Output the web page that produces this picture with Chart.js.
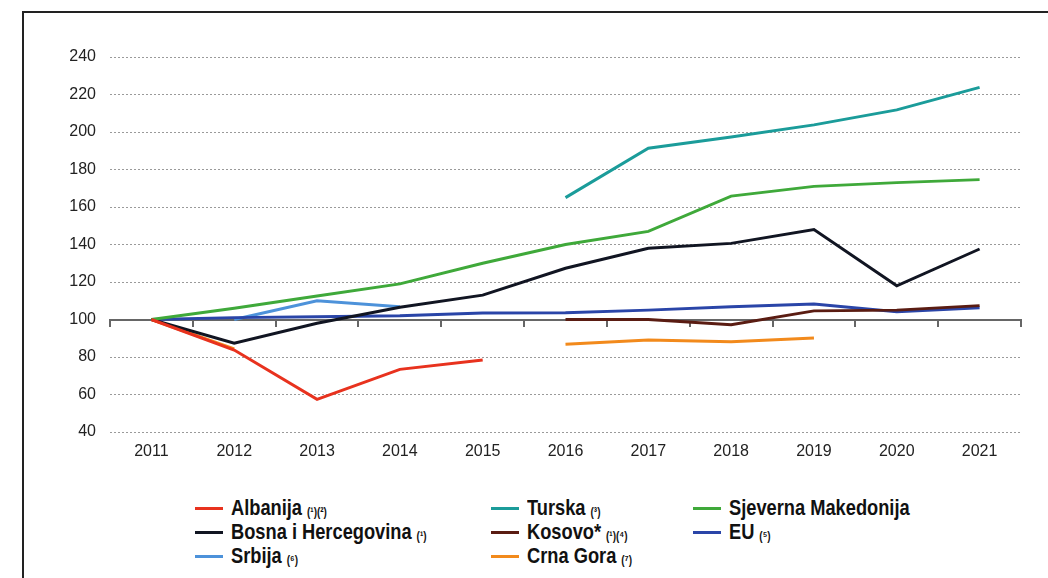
<!DOCTYPE html>
<html>
<head>
<meta charset="utf-8">
<script src="https://cdn.jsdelivr.net/npm/chart.js@4"></script>
<style>
  body { margin: 0; background: #fff; }
  #wrap { position: relative; width: 1048px; height: 578px; overflow: hidden; background: #fff; }
  #frame { position: absolute; left: 22px; top: 11px; width: 1100px; height: 700px; border: 2px solid #222; box-sizing: border-box; }
  #chartBox { position: absolute; left: 0; top: 0; width: 1048px; height: 480px; }
  .leg { position: absolute; height: 24px; display: flex; align-items: center; white-space: nowrap; color: #111; }
  .leg i { display: inline-block; width: 28px; height: 3px; margin-right: 8px; }
  .leg span { display: inline-block; transform: scaleX(0.83); transform-origin: left center;
              font-family: "Liberation Sans", Arial, sans-serif; font-weight: bold; font-size: 22px; }
  .leg small { font-size: 12px; margin-left: 6px; position: relative; top: 1px; }
</style>
</head>
<body>
<div id="wrap">
  <div id="frame"></div>
  <div id="chartBox"><canvas id="chart" width="1048" height="480"></canvas></div>
  <div id="legend"></div>
</div>
<script>
const years = ['2011', '2012', '2013', '2014', '2015', '2016', '2017', '2018', '2019', '2020', '2021'];
const yTicks = [40, 60, 80, 100, 120, 140, 160, 180, 200, 220, 240];

const albanija = [100, 83.7, 57.4, 73.4, 78.4, null, null, null, null, null, null];
const turska = [null, null, null, null, null, 165, 191.3, 197.3, 203.8, 211.8, 223.8];
const makedonija = [100, 106, 112.5, 119, 130, 140, 147, 165.8, 171, 173, 174.6];
const bih = [100, 87.3, 98, 106.5, 113, 127.3, 138, 140.6, 148, 118, 137.6];
const kosovo = [null, null, null, null, null, 100, 100, 97.2, 104.6, 105, 107.4];
const eu = [100, 101, 101.5, 102, 103.5, 103.6, 105, 106.8, 108.3, 104.2, 106.3];
const srbija = [null, 100, 110, 106.8, null, null, null, null, null, null, null];
const crnaGora = [100, 84.3, null, null, null, 86.8, 89, 88.2, 90.1, null, null];

const series = [
  { name: 'Albanija', note: '(\u00b9)(\u00b2)', data: albanija, color: '#e8321e', col: 0, row: 0 },
  { name: 'Turska', note: '(\u00b3)', data: turska, color: '#1b9c9a', col: 1, row: 0 },
  { name: 'Sjeverna Makedonija', note: '', data: makedonija, color: '#3fa93a', col: 2, row: 0 },
  { name: 'Bosna i Hercegovina', note: '(\u00b9)', data: bih, color: '#111522', col: 0, row: 1 },
  { name: 'Kosovo*', note: '(\u00b9)(\u2074)', data: kosovo, color: '#5a1c12', col: 1, row: 1 },
  { name: 'EU', note: '(\u2075)', data: eu, color: '#2a45a8', col: 2, row: 1 },
  { name: 'Srbija', note: '(\u2076)', data: srbija, color: '#4d92da', col: 0, row: 2 },
  { name: 'Crna Gora', note: '(\u2077)', data: crnaGora, color: '#f28a1c', col: 1, row: 2 }
];

// legend
const colX = [195, 491, 693];
const rowY = [496, 520, 544];
const legend = document.getElementById('legend');
series.forEach(s => {
  const d = document.createElement('div');
  d.className = 'leg';
  d.style.left = colX[s.col] + 'px';
  d.style.top = rowY[s.row] + 'px';
  d.innerHTML = '<i style="background:' + s.color + '"></i><span>' + s.name + (s.note ? '<small>' + s.note + '</small>' : '') + '</span>';
  legend.appendChild(d);
});

const tickFont = { family: 'Liberation Sans, Arial, sans-serif', size: 16 };

new Chart(document.getElementById('chart'), {
  type: 'line',
  data: {
    labels: years,
    datasets: series.map(s => ({
      label: s.name,
      data: s.data,
      borderColor: s.color,
      backgroundColor: s.color,
      borderWidth: 3,
      pointRadius: 0,
      tension: 0,
      spanGaps: false
    }))
  },
  options: {
    responsive: false,
    animation: false,
    devicePixelRatio: 1,
    layout: { padding: { top: 57, right: 27, left: 0, bottom: 0 } },
    plugins: { legend: { display: false }, tooltip: { enabled: false } },
    scales: {
      x: {
        type: 'category',
        offset: true,
        grid: { display: false, drawTicks: false },
        border: { display: false },
        ticks: { color: '#222', font: tickFont, padding: 10, maxRotation: 0, autoSkip: false },
        afterFit: sc => { sc.height = 48; }
      },
      x2: {
        type: 'category',
        labels: years,
        offset: true,
        position: { y: 100 },
        grid: { offset: true, drawOnChartArea: false, drawTicks: true, tickLength: 6, color: '#666', lineWidth: 2 },
        border: { display: true, color: '#666', width: 2 },
        ticks: { display: false }
      },
      y: {
        min: 40,
        max: 240,
        afterBuildTicks: sc => { sc.ticks = yTicks.map(v => ({ value: v })); },
        grid: { color: '#9a9a9a', lineWidth: 1, drawTicks: false },
        border: { display: false, dash: [2, 2] },
        ticks: { color: '#222', font: tickFont, padding: 14 },
        afterFit: sc => { sc.width = 110; }
      }
    }
  }
});
</script>
</body>
</html>
